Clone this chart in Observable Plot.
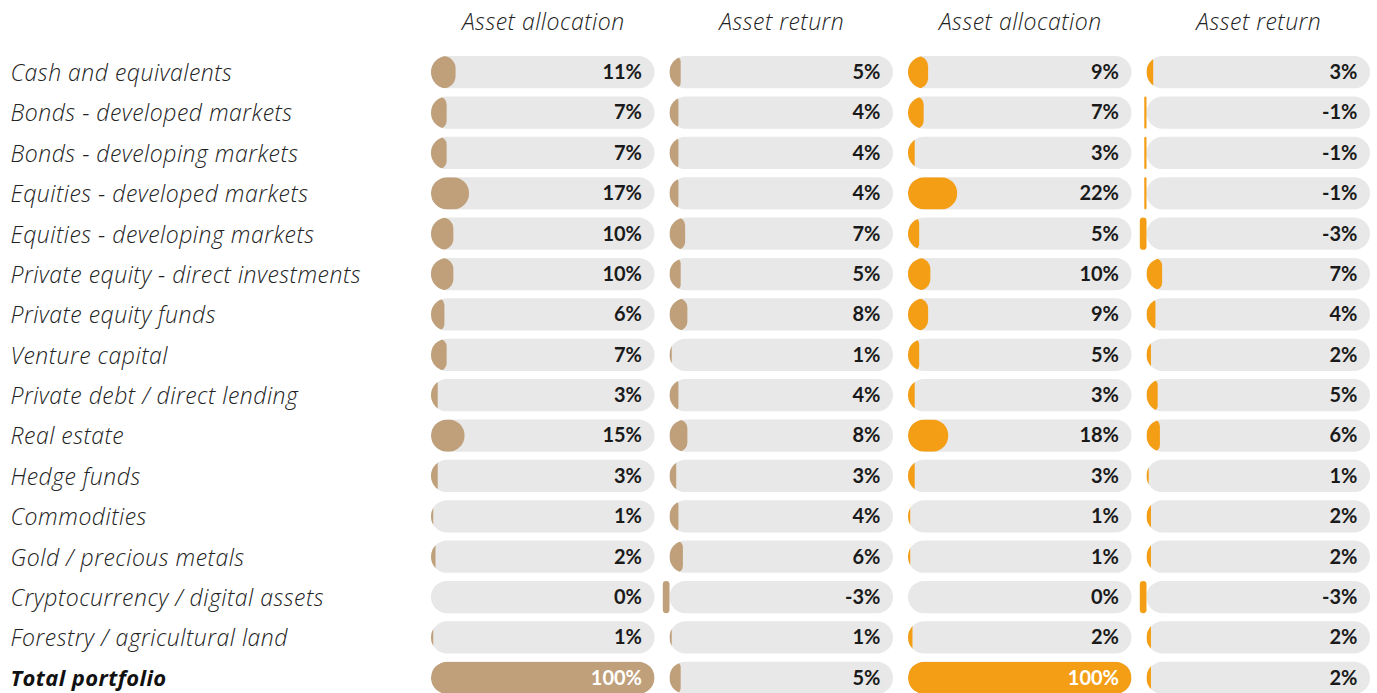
<!DOCTYPE html>
<html>
<head>
<meta charset="utf-8">
<script src="https://cdn.jsdelivr.net/npm/d3@7"></script>
<script src="https://cdn.jsdelivr.net/npm/@observablehq/plot@0.6"></script>
<style>
  html, body { margin: 0; padding: 0; background: #fff; overflow: hidden; }
</style>
</head>
<body>
<div id="chart"></div>
<script>
const categories = [
  "Cash and equivalents",
  "Bonds - developed markets",
  "Bonds - developing markets",
  "Equities - developed markets",
  "Equities - developing markets",
  "Private equity - direct investments",
  "Private equity funds",
  "Venture capital",
  "Private debt / direct lending",
  "Real estate",
  "Hedge funds",
  "Commodities",
  "Gold / precious metals",
  "Cryptocurrency / digital assets",
  "Forestry / agricultural land",
  "Total portfolio"
];
const allocation1 = [11, 7, 7, 17, 10, 10, 6, 7, 3, 15, 3, 1, 2, 0, 1, 100];
const return1     = [5, 4, 4, 4, 7, 5, 8, 1, 4, 8, 3, 4, 6, -3, 1, 5];
const allocation2 = [9, 7, 3, 22, 5, 10, 9, 5, 3, 18, 3, 1, 1, 0, 2, 100];
const return2     = [3, -1, -1, -1, -3, 7, 4, 2, 5, 6, 1, 2, 2, -3, 2, 2];

const columnKeys = ["a1", "r1", "a2", "r2"];
const columnTitles = ["Asset allocation", "Asset return", "Asset allocation", "Asset return"];
const columnColors = ["#bfa07a", "#bfa07a", "#f49e16", "#f49e16"];
const series = [allocation1, return1, allocation2, return2];

const rows = [];
series.forEach((vals, c) => {
  vals.forEach((v, i) => rows.push({col: columnKeys[c], cat: categories[i], v: v / 100, label: v + "%", color: columnColors[c]}));
});
const headers = columnKeys.map((k, i) => ({col: k, title: columnTitles[i]}));
const labelRows = categories.map(c => ({cat: c}));
const totalName = categories[categories.length - 1];

const negRoom = 15 / 223.5;
const labelFont = "'Open Sans', Lato, sans-serif";

const chart = Plot.plot({
  width: 1377,
  height: 702,
  marginLeft: 416,
  marginRight: 7,
  marginTop: 48,
  marginBottom: 0,
  style: {fontFamily: "Lato, 'Noto Sans', sans-serif", background: "#fff"},
  fx: {domain: columnKeys, padding: 0, round: false, axis: null},
  x: {domain: [-negRoom, 1], axis: null},
  y: {domain: categories, padding: 0.2, round: false, axis: null},
  color: {type: "identity"},
  marks: [
    Plot.barX(rows, {fx: "col", y: "cat", x1: 0, x2: 1, fill: "#e8e8e8", rx: 16, ariaDescription: "pill-bg"}),
    Plot.barX(rows.filter(d => d.v > 0), {fx: "col", y: "cat", x1: 0, x2: "v", fill: "color", ariaDescription: "pill-fill"}),
    Plot.barX(rows.filter(d => d.v < 0), {fx: "col", y: "cat", x1: "v", x2: 0, fill: "color", ariaDescription: "pill-neg"}),
    Plot.text(rows.filter(d => d.v < 1), {fx: "col", y: "cat", x: 1, dx: -13, text: "label", textAnchor: "end", fill: "#1a1a1a", fontSize: 20, fontWeight: "bold"}),
    Plot.text(rows.filter(d => d.v >= 1), {fx: "col", y: "cat", x: 1, dx: -13, text: "label", textAnchor: "end", fill: "#ffffff", fontSize: 20, fontWeight: "bold"}),
    Plot.text(headers, {fx: "col", x: 0.5, text: "title", frameAnchor: "top", dy: -35, fontSize: 23, fontStyle: "italic", fontWeight: 300, fill: "#222", fontFamily: labelFont, ariaDescription: "spaced"}),
    Plot.text(labelRows.filter(d => d.cat !== totalName), {fx: () => "a1", y: "cat", frameAnchor: "left", textAnchor: "start", dx: -406, dy: 1, text: "cat", fontSize: 23, fontStyle: "italic", fontWeight: 300, fill: "#222", fontFamily: labelFont, ariaDescription: "spaced"}),
    Plot.text(labelRows.filter(d => d.cat === totalName), {fx: () => "a1", y: "cat", frameAnchor: "left", textAnchor: "start", dx: -406, dy: 1, text: "cat", fontSize: 22, fontStyle: "italic", fontWeight: "bold", fill: "#111", fontFamily: labelFont, ariaDescription: "spaced-bold"})
  ]
});

// slightly wider tracking for the italic labels and headers
chart.querySelectorAll('[aria-description="spaced"]').forEach(g => g.setAttribute("letter-spacing", "0.5"));
chart.querySelectorAll('[aria-description="spaced-bold"]').forEach(g => g.setAttribute("letter-spacing", "0.4"));

// clip filled bars to the pill shape, with uniform (CSS-like) corner radii
const ns = "http://www.w3.org/2000/svg";
const defs = document.createElementNS(ns, "defs");
chart.insertBefore(defs, chart.firstChild);
const clipIds = new Map();
chart.querySelectorAll('[aria-description="pill-bg"] rect').forEach(r => {
  const y = r.getAttribute("y");
  if (clipIds.has(y)) return;
  const id = "pill-clip-" + clipIds.size;
  const cp = document.createElementNS(ns, "clipPath");
  cp.setAttribute("id", id);
  const cr = document.createElementNS(ns, "rect");
  ["x", "y", "width", "height"].forEach(a => cr.setAttribute(a, r.getAttribute(a)));
  cr.setAttribute("rx", 16);
  cr.setAttribute("ry", 16);
  cp.appendChild(cr);
  defs.appendChild(cp);
  clipIds.set(y, id);
});
function roundRect(r) {
  const w = +r.getAttribute("width"), h = +r.getAttribute("height");
  const rr = Math.min(16, w / 2, h / 2);
  r.setAttribute("rx", rr);
  r.setAttribute("ry", rr);
}
chart.querySelectorAll('[aria-description="pill-fill"] rect').forEach(r => {
  roundRect(r);
  const id = clipIds.get(r.getAttribute("y"));
  if (id) r.setAttribute("clip-path", `url(#${id})`);
});
chart.querySelectorAll('[aria-description="pill-neg"] rect').forEach(roundRect);

document.getElementById("chart").appendChild(chart);
</script>
</body>
</html>
